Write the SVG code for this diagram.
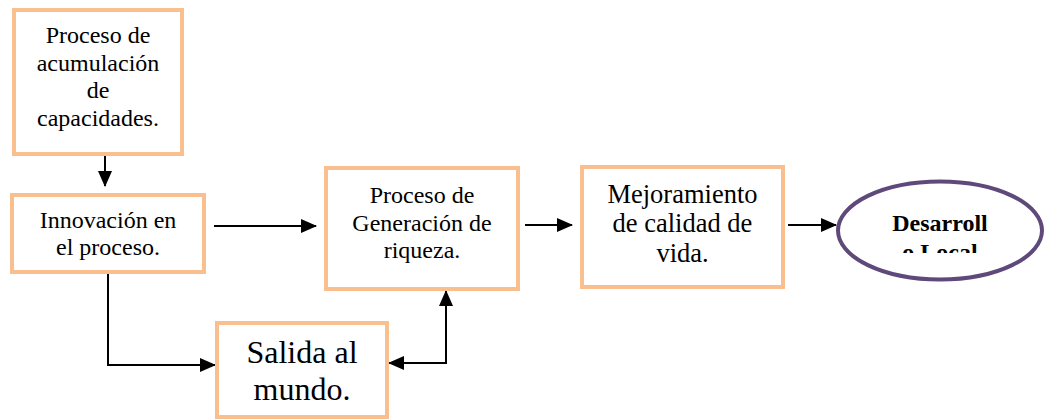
<svg xmlns="http://www.w3.org/2000/svg" width="1044" height="419" viewBox="0 0 1044 419">
<style>
.box{fill:#fff;stroke:#F9BF8F;stroke-width:4}
.ell{fill:#fff;stroke:#5F497A;stroke-width:4}
text{font-family:'Liberation Serif','DejaVu Serif',serif;fill:#000;text-anchor:middle}
.c{fill:none;stroke:#000;stroke-width:2}
</style>
<defs>
<marker id="ah" markerUnits="userSpaceOnUse" markerWidth="16" markerHeight="14" refX="15" refY="7" orient="auto-start-reverse" viewBox="0 0 16 14">
<path d="M0,0 L16,7 L0,14 Z" fill="#000"/>
</marker>
<clipPath id="clipE"><rect x="830" y="170" width="220" height="83"/></clipPath>
</defs>
<rect x="0" y="0" width="1044" height="419" fill="#fff"/>
<g id="connectors">
<path class="c" d="M105,154 L105,186" marker-end="url(#ah)"/>
<path class="c" d="M214,226 L316,226" marker-end="url(#ah)"/>
<path class="c" d="M525,225 L572,225" marker-end="url(#ah)"/>
<path class="c" d="M788,225 L836,225" marker-end="url(#ah)"/>
<path class="c" d="M108,272 L108,365 L215,365" marker-end="url(#ah)"/>
<path class="c" d="M389,363 L446,363 L446,291" marker-start="url(#ah)" marker-end="url(#ah)"/>
</g>
<g id="n1">
<rect class="box" x="14" y="10" width="168" height="144"/>
<text font-family="Liberation Serif, serif" font-size="24" x="98" y="43">Proceso de</text>
<text font-size="24" x="98" y="70.5">acumulación</text>
<text font-size="24" x="98" y="98">de</text>
<text font-size="24" x="98" y="125.5">capacidades.</text>
</g>
<g id="n2">
<rect class="box" x="12" y="195" width="192" height="77"/>
<text font-size="24" x="108" y="228">Innovación en</text>
<text font-size="24" x="108" y="255">el proceso.</text>
</g>
<g id="n3">
<rect class="box" x="326" y="168" width="192" height="121"/>
<text font-size="24" x="422" y="203">Proceso de</text>
<text font-size="24" x="422" y="231">Generación de</text>
<text font-size="24" x="422" y="258">riqueza.</text>
</g>
<g id="n4">
<rect class="box" x="582" y="167" width="201" height="120"/>
<text font-size="26.5" x="682.5" y="203">Mejoramiento</text>
<text font-size="26.5" x="682.5" y="232">de calidad de</text>
<text font-size="26.5" x="682.5" y="262">vida.</text>
</g>
<g id="n5">
<rect class="box" x="217" y="323" width="170" height="94"/>
<text font-size="32" x="302" y="363">Salida al</text>
<text font-size="32" x="302" y="400">mundo.</text>
</g>
<g id="n6">
<ellipse class="ell" cx="940" cy="230.5" rx="102" ry="49"/>
<g clip-path="url(#clipE)">
<text font-size="24" font-weight="bold" x="940" y="231">Desarroll</text>
<text font-size="24" font-weight="bold" x="940" y="260">o Local</text>
</g>
</g>
</svg>
